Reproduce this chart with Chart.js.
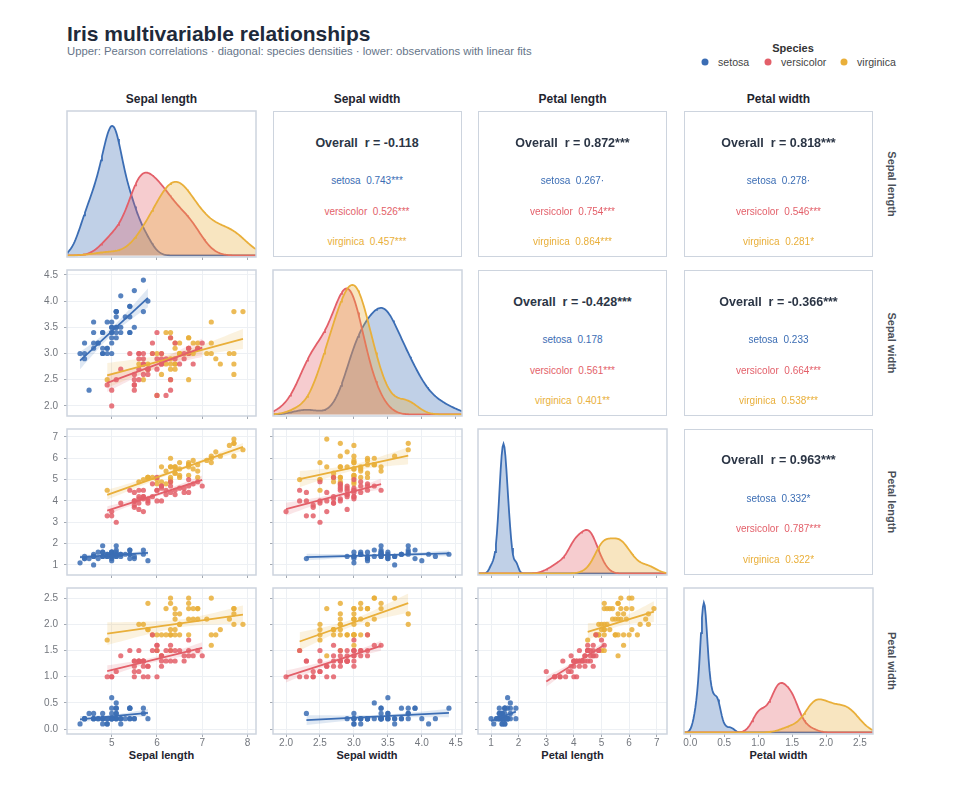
<!DOCTYPE html>
<html>
<head>
<meta charset="utf-8">
<title>Iris multivariable relationships</title>
<script src="https://cdn.jsdelivr.net/npm/chart.js@4.4.1/dist/chart.umd.min.js"></script>
<style>
  body { margin: 0; background: #fff; font-family: "Liberation Sans", Arial, sans-serif; }
  #page { position: relative; width: 960px; height: 793px; overflow: hidden; }
  #page canvas { position: absolute; }
  .txt { position: absolute; white-space: nowrap; }
  .title { left: 67px; top: 22px; font-size: 21px; font-weight: bold; color: #1e2a3b; }
  .subtitle { left: 67px; top: 45px; font-size: 11.3px; color: #667589; }
  .colhead { font-size: 12px; font-weight: bold; color: #1f2530; transform: translate(-50%, -50%); }
  .rowhead { font-size: 11px; font-weight: bold; color: #4a4f58; transform: translate(-50%, -50%) rotate(90deg); }
  .axtitle { font-size: 11px; font-weight: bold; color: #1f2530; transform: translate(-50%, -50%); }
  .corr { position: absolute; box-sizing: border-box; border: 1.5px solid #cdd4de; background: #fff; }
  .corr div { position: absolute; left: 0; right: 0; text-align: center; transform: translateY(-50%); white-space: pre; }
  .corr .overall { font-size: 12.5px; font-weight: bold; color: #2c3646; }
  .corr .sp { font-size: 10px; }
  .legtitle { font-size: 11px; font-weight: bold; color: #333; transform: translate(-50%, -50%); }
  .legitem { font-size: 10.6px; color: #444; transform: translateY(-50%); }
  .dot { position: absolute; width: 7px; height: 7px; border-radius: 50%; transform: translate(-50%, -50%); }
</style>
</head>
<body>
<div id="page"></div>
<script>
// data (Fisher's iris, as plotted)
const species = ['setosa', 'versicolor', 'virginica'];
const variables = ['Sepal length', 'Sepal width', 'Petal length', 'Petal width'];

const setosaSepalLength = [5.1,4.9,4.7,4.6,5.0,5.4,4.6,5.0,4.4,4.9,5.4,4.8,4.8,4.3,5.8,5.7,5.4,5.1,5.7,5.1,5.4,5.1,4.6,5.1,4.8,5.0,5.0,5.2,5.2,4.7,4.8,5.4,5.2,5.5,4.9,5.0,5.5,4.9,4.4,5.1,5.0,4.5,4.4,5.0,5.1,4.8,5.1,4.6,5.3,5.0];
const setosaSepalWidth = [3.5,3.0,3.2,3.1,3.6,3.9,3.4,3.4,2.9,3.1,3.7,3.4,3.0,3.0,4.0,4.4,3.9,3.5,3.8,3.8,3.4,3.7,3.6,3.3,3.4,3.0,3.4,3.5,3.4,3.2,3.1,3.4,4.1,4.2,3.1,3.2,3.5,3.6,3.0,3.4,3.5,2.3,3.2,3.5,3.8,3.0,3.8,3.2,3.7,3.3];
const setosaPetalLength = [1.4,1.4,1.3,1.5,1.4,1.7,1.4,1.5,1.4,1.5,1.5,1.6,1.4,1.1,1.2,1.5,1.3,1.4,1.7,1.5,1.7,1.5,1.0,1.7,1.9,1.6,1.6,1.5,1.4,1.6,1.6,1.5,1.5,1.4,1.5,1.2,1.3,1.4,1.3,1.5,1.3,1.3,1.3,1.6,1.9,1.4,1.6,1.4,1.5,1.4];
const setosaPetalWidth = [0.2,0.2,0.2,0.2,0.2,0.4,0.3,0.2,0.2,0.1,0.2,0.2,0.1,0.1,0.2,0.4,0.4,0.3,0.3,0.3,0.2,0.4,0.2,0.5,0.2,0.2,0.4,0.2,0.2,0.2,0.2,0.4,0.1,0.2,0.2,0.2,0.2,0.1,0.2,0.2,0.3,0.3,0.2,0.6,0.4,0.3,0.2,0.2,0.2,0.2];

const versicolorSepalLength = [7.0,6.4,6.9,5.5,6.5,5.7,6.3,4.9,6.6,5.2,5.0,5.9,6.0,6.1,5.6,6.7,5.6,5.8,6.2,5.6,5.9,6.1,6.3,6.1,6.4,6.6,6.8,6.7,6.0,5.7,5.5,5.5,5.8,6.0,5.4,6.0,6.7,6.3,5.6,5.5,5.5,6.1,5.8,5.0,5.6,5.7,5.7,6.2,5.1,5.7];
const versicolorSepalWidth = [3.2,3.2,3.1,2.3,2.8,2.8,3.3,2.4,2.9,2.7,2.0,3.0,2.2,2.9,2.9,3.1,3.0,2.7,2.2,2.5,3.2,2.8,2.5,2.8,2.9,3.0,2.8,3.0,2.9,2.6,2.4,2.4,2.7,2.7,3.0,3.4,3.1,2.3,3.0,2.5,2.6,3.0,2.6,2.3,2.7,3.0,2.9,2.9,2.5,2.8];
const versicolorPetalLength = [4.7,4.5,4.9,4.0,4.6,4.5,4.7,3.3,4.6,3.9,3.5,4.2,4.0,4.7,3.6,4.4,4.5,4.1,4.5,3.9,4.8,4.0,4.9,4.7,4.3,4.4,4.8,5.0,4.5,3.5,3.8,3.7,3.9,5.1,4.5,4.5,4.7,4.4,4.1,4.0,4.4,4.6,4.0,3.3,4.2,4.2,4.2,4.3,3.0,4.1];
const versicolorPetalWidth = [1.4,1.5,1.5,1.3,1.5,1.3,1.6,1.0,1.3,1.4,1.0,1.5,1.0,1.4,1.3,1.4,1.5,1.0,1.5,1.1,1.8,1.3,1.5,1.2,1.3,1.4,1.4,1.7,1.5,1.0,1.1,1.0,1.2,1.6,1.5,1.6,1.5,1.3,1.3,1.3,1.2,1.4,1.2,1.0,1.3,1.2,1.3,1.3,1.1,1.3];

const virginicaSepalLength = [6.3,5.8,7.1,6.3,6.5,7.6,4.9,7.3,6.7,7.2,6.5,6.4,6.8,5.7,5.8,6.4,6.5,7.7,7.7,6.0,6.9,5.6,7.7,6.3,6.7,7.2,6.2,6.1,6.4,7.2,7.4,7.9,6.4,6.3,6.1,7.7,6.3,6.4,6.0,6.9,6.7,6.9,5.8,6.8,6.7,6.7,6.3,6.5,6.2,5.9];
const virginicaSepalWidth = [3.3,2.7,3.0,2.9,3.0,3.0,2.5,2.9,2.5,3.6,3.2,2.7,3.0,2.5,2.8,3.2,3.0,3.8,2.6,2.2,3.2,2.8,2.8,2.7,3.3,3.2,2.8,3.0,2.8,3.0,2.8,3.8,2.8,2.8,2.6,3.0,3.4,3.1,3.0,3.1,3.1,3.1,2.7,3.2,3.3,3.0,2.5,3.0,3.4,3.0];
const virginicaPetalLength = [6.0,5.1,5.9,5.6,5.8,6.6,4.5,6.3,5.8,6.1,5.1,5.3,5.5,5.0,5.1,5.3,5.5,6.7,6.9,5.0,5.7,4.9,6.7,4.9,5.7,6.0,4.8,4.9,5.6,5.8,6.1,6.4,5.6,5.1,5.6,6.1,5.6,5.5,4.8,5.4,5.6,5.1,5.1,5.9,5.7,5.2,5.0,5.2,5.4,5.1];
const virginicaPetalWidth = [2.5,1.9,2.1,1.8,2.2,2.1,1.7,1.8,1.8,2.5,2.0,1.9,2.1,2.0,2.4,2.3,1.8,2.2,2.3,1.5,2.3,2.0,2.0,1.8,2.1,1.8,1.8,1.8,2.1,1.6,1.9,2.0,2.2,1.5,1.4,2.3,2.4,1.8,1.8,2.1,2.4,2.3,1.9,2.3,2.5,2.3,1.9,2.0,2.3,1.8];

const tickValues = [[5, 6, 7, 8], [2.0, 2.5, 3.0, 3.5, 4.0, 4.5], [1, 2, 3, 4, 5, 6, 7], [0.0, 0.5, 1.0, 1.5, 2.0, 2.5]];
const tickLabels = [['5', '6', '7', '8'], ['2.0', '2.5', '3.0', '3.5', '4.0', '4.5'], ['1', '2', '3', '4', '5', '6', '7'], ['0.0', '0.5', '1.0', '1.5', '2.0', '2.5']];

// upper triangle: pairs (row var, col var) and the printed coefficients
const corrPairs = [[0, 1], [0, 2], [0, 3], [1, 2], [1, 3], [2, 3]];
const overallR = ['-0.118', '0.872***', '0.818***', '-0.428***', '-0.366***', '0.963***'];
const setosaR = ['0.743***', '0.267·', '0.278·', '0.178', '0.233', '0.332*'];
const versicolorR = ['0.526***', '0.754***', '0.546***', '0.561***', '0.664***', '0.787***'];
const virginicaR = ['0.457***', '0.864***', '0.281*', '0.401**', '0.538***', '0.322*'];

// ---- styling / layout ----
const colors = [[59, 109, 180], [227, 95, 105], [233, 175, 58]];
const rgba = (c, a) => `rgba(${c[0]},${c[1]},${c[2]},${a})`;
const colX = [67, 272.5, 478, 684];
const rowY = [111, 270, 428.8, 587.8];
const PW = 189, PH = 146;
const L = 34, B = 20, T = 14, R = 10;

const obs = [
  [setosaSepalLength, setosaSepalWidth, setosaPetalLength, setosaPetalWidth],
  [versicolorSepalLength, versicolorSepalWidth, versicolorPetalLength, versicolorPetalWidth],
  [virginicaSepalLength, virginicaSepalWidth, virginicaPetalLength, virginicaPetalWidth]
];
const speciesR = [setosaR, versicolorR, virginicaR];

// axis domains: data range padded by 8%
const allVals = v => obs[0][v].concat(obs[1][v], obs[2][v]);
const axisMin = [], axisMax = [];
for (let v = 0; v < 4; v++) {
  const a = allVals(v), lo = Math.min(...a), hi = Math.max(...a);
  axisMin.push(lo - 0.08 * (hi - lo));
  axisMax.push(hi + 0.08 * (hi - lo));
}

const mean = a => a.reduce((s, x) => s + x, 0) / a.length;
// Scott's rule
function bandwidth(a) {
  const m = mean(a), sd = Math.sqrt(a.reduce((s, x) => s + (x - m) ** 2, 0) / (a.length - 1));
  return 1.06 * sd * Math.pow(a.length, -0.2);
}
function kde(a, lo, hi, steps) {
  const bw = bandwidth(a), out = [];
  for (let k = 0; k <= steps; k++) {
    const x = lo + (hi - lo) * k / steps;
    let s = 0;
    for (const v of a) s += Math.exp(-0.5 * ((x - v) / bw) ** 2);
    out.push({ x, y: s / (a.length * bw * Math.sqrt(2 * Math.PI)) });
  }
  return out;
}
function linFit(xs, ys) {
  const mx = mean(xs), my = mean(ys);
  let sxx = 0, sxy = 0;
  xs.forEach((x, i) => { sxx += (x - mx) ** 2; sxy += (x - mx) * (ys[i] - my); });
  const b = sxy / sxx, a = my - b * mx;
  let sse = 0;
  xs.forEach((x, i) => { sse += (ys[i] - a - b * x) ** 2; });
  const se = Math.sqrt(sse / (xs.length - 2));
  return { a, b, mx, sxx, se, n: xs.length, lo: Math.min(...xs), hi: Math.max(...xs) };
}

const page = document.getElementById('page');
function addText(cls, txt, x, y) {
  const d = document.createElement('div');
  d.className = 'txt ' + cls;
  d.textContent = txt;
  if (x !== null) d.style.left = x + 'px';
  if (y !== null) d.style.top = y + 'px';
  page.appendChild(d);
  return d;
}

addText('title', 'Iris multivariable relationships', null, null);
addText('subtitle', 'Upper: Pearson correlations · diagonal: species densities · lower: observations with linear fits', null, null);

// legend
addText('legtitle', 'Species', 793, 47.5);
const legX = [705, 768, 844];
species.forEach((s, k) => {
  const dot = document.createElement('div');
  dot.className = 'dot';
  dot.style.left = legX[k] + 'px'; dot.style.top = '62px';
  dot.style.background = rgba(colors[k], 1);
  page.appendChild(dot);
  addText('legitem', s, legX[k] + 13, 62);
});

variables.forEach((v, j) => {
  addText('colhead', v, colX[j] + PW / 2, 98.5);
  addText('rowhead', v, 892, rowY[j] + PH / 2);
  addText('axtitle', v, colX[j] + PW / 2, 755);
});

const framePlugin = {
  id: 'frame',
  afterDraw(chart) {
    const { ctx, chartArea: a } = chart;
    ctx.save();
    ctx.strokeStyle = '#cdd4de';
    ctx.lineWidth = 1.5;
    ctx.strokeRect(a.left, a.top, a.right - a.left, a.bottom - a.top);
    ctx.restore();
  }
};

function xScale(i, j, gridOn) {
  return {
    type: 'linear', min: axisMin[j], max: axisMax[j],
    afterBuildTicks: s => { s.ticks = tickValues[j].map(value => ({ value })); },
    afterFit: s => { s.height = B; },
    ticks: {
      display: i === 3, autoSkip: false, maxRotation: 0, padding: 0,
      color: '#73777e', font: { size: 10, family: 'Liberation Sans' },
      callback: val => tickLabels[j][tickValues[j].indexOf(val)]
    },
    grid: { display: true, drawOnChartArea: gridOn, color: '#edf0f4', tickColor: '#a3a9b2', tickLength: 3, lineWidth: 1 },
    border: { display: false }
  };
}

function makeCanvas(i, j) {
  const c = document.createElement('canvas');
  c.width = L + PW + R; c.height = T + PH + B;
  c.style.left = (colX[j] - L) + 'px';
  c.style.top = (rowY[i] - T) + 'px';
  c.style.width = c.width + 'px'; c.style.height = c.height + 'px';
  page.appendChild(c);
  return c;
}

const baseOptions = {
  responsive: false, animation: false, events: [],
  layout: { padding: { top: T, right: R, left: 0, bottom: 0 } },
  plugins: { legend: { display: false }, tooltip: { enabled: false } }
};

for (let i = 0; i < 4; i++) {
  for (let j = 0; j < 4; j++) {
    if (j > i) continue;
    const canvas = makeCanvas(i, j);
    if (i === j) {
      // diagonal: species densities
      const curves = obs.map(sp => kde(sp[i], axisMin[i], axisMax[i], 200));
      const peak = Math.max(...curves.map(cv => Math.max(...cv.map(p => p.y))));
      new Chart(canvas, {
        type: 'line',
        data: {
          datasets: curves.map((cv, k) => ({
            data: cv, borderColor: rgba(colors[k], 1), backgroundColor: rgba(colors[k], 0.32),
            borderWidth: 1.8, pointRadius: 0, fill: 'origin', tension: 0, order: 3 - k
          }))
        },
        options: Object.assign({}, baseOptions, {
          scales: {
            x: xScale(i, j, false),
            y: {
              type: 'linear', min: -0.012 * peak, max: peak * 1.115,
              afterFit: s => { s.width = L; },
              ticks: { display: false }, grid: { display: false }, border: { display: false }
            }
          }
        }),
        plugins: [framePlugin]
      });
    } else {
      // lower: scatter with linear fit and 95% band
      const datasets = [];
      obs.forEach((sp, k) => {
        const xs = sp[j], ys = sp[i];
        const f = linFit(xs, ys);
        const lower = [], upper = [];
        for (let s = 0; s <= 30; s++) {
          const x = f.lo + (f.hi - f.lo) * s / 30;
          const w = 2.0106 * f.se * Math.sqrt(1 / f.n + (x - f.mx) ** 2 / f.sxx);
          lower.push({ x, y: f.a + f.b * x - w });
          upper.push({ x, y: f.a + f.b * x + w });
        }
        datasets.push({ type: 'line', data: lower, borderWidth: 0, pointRadius: 0, fill: false, order: 3 });
        datasets.push({ type: 'line', data: upper, borderWidth: 0, pointRadius: 0, fill: '-1',
          backgroundColor: rgba(colors[k], 0.16), order: 3 });
        datasets.push({ type: 'scatter', data: xs.map((x, n) => ({ x, y: ys[n] })),
          pointRadius: 2.6, pointBorderWidth: 0, backgroundColor: rgba(colors[k], 0.85), order: 2 });
        datasets.push({ type: 'line', data: [{ x: f.lo, y: f.a + f.b * f.lo }, { x: f.hi, y: f.a + f.b * f.hi }],
          borderColor: rgba(colors[k], 1), borderWidth: 1.8, pointRadius: 0, fill: false, order: 1 });
      });
      new Chart(canvas, {
        type: 'scatter',
        data: { datasets },
        options: Object.assign({}, baseOptions, {
          scales: {
            x: xScale(i, j, true),
            y: {
              type: 'linear', min: axisMin[i], max: axisMax[i],
              afterBuildTicks: s => { s.ticks = tickValues[i].map(value => ({ value })); },
              afterFit: s => { s.width = L; },
              ticks: {
                display: j === 0, autoSkip: false, padding: 6,
                color: '#73777e', font: { size: 10, family: 'Liberation Sans' },
                callback: val => tickLabels[i][tickValues[i].indexOf(val)]
              },
              grid: { display: true, drawOnChartArea: true, color: '#edf0f4', tickColor: '#a3a9b2', tickLength: 3 },
              border: { display: false }
            }
          }
        }),
        plugins: [framePlugin]
      });
    }
  }
}

// upper triangle: correlation cells
corrPairs.forEach(([r, c], p) => {
  const box = document.createElement('div');
  box.className = 'corr';
  Object.assign(box.style, { left: colX[c] + 'px', top: rowY[r] + 'px', width: PW + 'px', height: PH + 'px' });
  const head = document.createElement('div');
  head.className = 'overall';
  head.textContent = 'Overall  r = ' + overallR[p];
  head.style.top = '30.5px';
  box.appendChild(head);
  species.forEach((s, k) => {
    const d = document.createElement('div');
    d.className = 'sp';
    d.textContent = s + '  ' + speciesR[k][p];
    d.style.top = (68 + k * 30.5) + 'px';
    d.style.color = rgba(colors[k], 1);
    box.appendChild(d);
  });
  page.appendChild(box);
});
</script>
</body>
</html>
